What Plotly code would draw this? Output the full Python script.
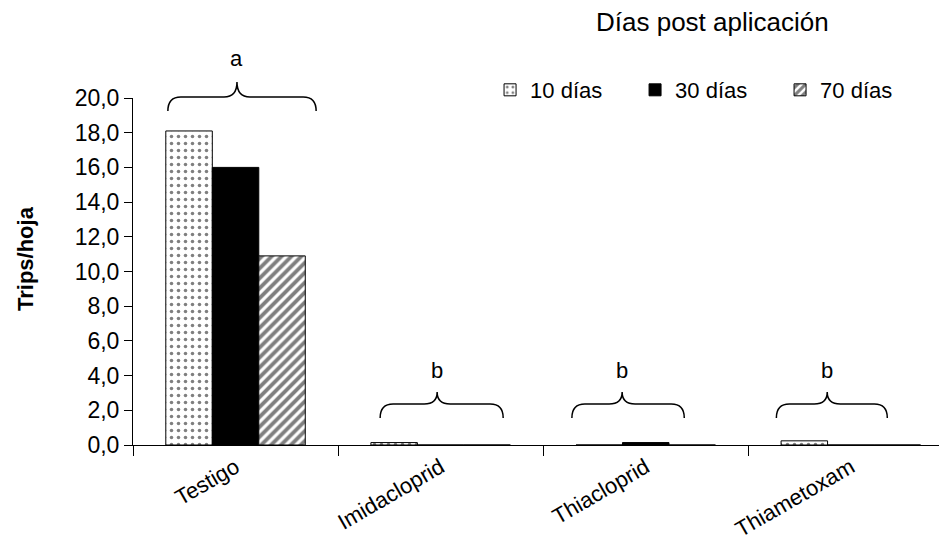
import plotly.graph_objects as go

# ---------------- data ----------------
categories = ["Testigo", "Imidacloprid", "Thiacloprid", "Thiametoxam"]
series_names = ["10 días", "30 días", "70 días"]
dias_10 = [18.1, 0.14, 0.0, 0.24]
dias_30 = [16.0, 0.0, 0.14, 0.0]
dias_70 = [10.9, 0.0, 0.0, 0.0]
y_ticks = [0, 2, 4, 6, 8, 10, 12, 14, 16, 18, 20]
letters = ["a", "b", "b", "b"]

# brace annotations (offsets relative to category index, heights in data units)
brace_left = [-0.33, -0.295, -0.36, -0.363]
brace_tip = [0.007, -0.017, -0.115, -0.115]
brace_right = [0.393, 0.305, 0.188, 0.178]
brace_end_y = [19.25, 1.56, 1.56, 1.56]
brace_flat_y = [20.06, 2.36, 2.36, 2.36]
brace_tip_y = [20.92, 3.05, 3.05, 3.05]
letter_y = [22.25, 4.32, 4.32, 4.32]

# ---------------- layout constants ----------------
W, H = 939, 554
ML, MR, MT, MB = 133, 0, 98, 109
XR = [-0.5, 3.43]
YR = [0, 20]
FONT = "Liberation Sans, Arial, sans-serif"
plot_w = W - ML - MR


def xp(v):
    return (v - XR[0]) / (XR[1] - XR[0])


def yp(v):
    return (v - YR[0]) / (YR[1] - YR[0])


patterns = [
    dict(shape=".", fgcolor="black", bgcolor="white", size=7, solidity=0.2),
    None,
    dict(shape="/", fgcolor="black", bgcolor="white", size=7, solidity=0.55),
]
colors = ["white", "black", "white"]
values = [dias_10, dias_30, dias_70]

fig = go.Figure()
for name, vals, col, pat in zip(series_names, values, colors, patterns):
    marker = dict(color=col, line=dict(color="black", width=1))
    if pat is not None:
        marker["pattern"] = pat
    fig.add_trace(go.Bar(x=categories, y=vals, name=name, marker=marker,
                         hoverinfo="skip"))

shapes = []
annotations = []
rx = 13 / plot_w
for i in range(len(categories)):
    x0 = xp(i + brace_left[i])
    x1 = xp(i + brace_right[i])
    xc = xp(i + brace_tip[i])
    ye = yp(brace_end_y[i])
    yf = yp(brace_flat_y[i])
    yt = yp(brace_tip_y[i])
    path = (
        f"M{x0},{ye} Q{x0},{yf} {x0 + rx},{yf} L{xc - rx},{yf} "
        f"Q{xc},{yf} {xc},{yt} Q{xc},{yf} {xc + rx},{yf} "
        f"L{x1 - rx},{yf} Q{x1},{yf} {x1},{ye}"
    )
    shapes.append(dict(type="path", path=path, xref="paper", yref="paper",
                       line=dict(color="black", width=1.5)))
    annotations.append(dict(text=letters[i], x=xc, y=yp(letter_y[i]),
                            xref="paper", yref="paper", showarrow=False,
                            xanchor="center", yanchor="middle",
                            font=dict(size=22, color="black", family=FONT)))

annotations.append(dict(text="Días post aplicación", x=(712 - ML) / plot_w,
                        y=(H - MB - 22) / (H - MT - MB), xref="paper", yref="paper",
                        showarrow=False, xanchor="center", yanchor="middle",
                        font=dict(size=26, color="black", family=FONT)))
annotations.append(dict(text="<b>Trips/hoja</b>", x=(25 - ML) / plot_w,
                        y=(H - MB - 259) / (H - MT - MB), xref="paper", yref="paper",
                        showarrow=False, xanchor="center", yanchor="middle",
                        textangle=-90,
                        font=dict(size=22, color="black", family=FONT)))

fig.update_layout(
    width=W, height=H,
    margin=dict(l=ML, r=MR, t=MT, b=MB, pad=0),
    paper_bgcolor="white", plot_bgcolor="white",
    font=dict(family=FONT, color="black", size=22),
    barmode="group", bargap=0.32, bargroupgap=0,
    showlegend=True,
    legend=dict(orientation="h", x=0.443, y=1.023, xanchor="left", yanchor="middle",
                font=dict(size=22, family=FONT, color="black"),
                bgcolor="rgba(0,0,0,0)", entrywidth=100, entrywidthmode="pixels",
                traceorder="normal"),
    shapes=shapes,
    annotations=annotations,
)
fig.update_xaxes(
    type="category", range=XR, showline=True, linecolor="black", linewidth=1,
    ticks="outside", tickson="boundaries", ticklen=10, tickcolor="black",
    tickangle=-30, tickfont=dict(size=22, family=FONT, color="black"),
    showgrid=False, zeroline=False, fixedrange=True,
)
fig.update_yaxes(
    range=YR, tickvals=y_ticks, tickformat=".1f", showline=True, linecolor="black",
    linewidth=1, ticks="outside", ticklen=8, tickcolor="black",
    tickfont=dict(size=23, family=FONT, color="black"),
    showgrid=False, zeroline=False, fixedrange=True,
)
fig.update_layout(separators=",.")

fig.write_html("out.html", config={"displayModeBar": False},
               post_script="document.body.style.margin='0';")
